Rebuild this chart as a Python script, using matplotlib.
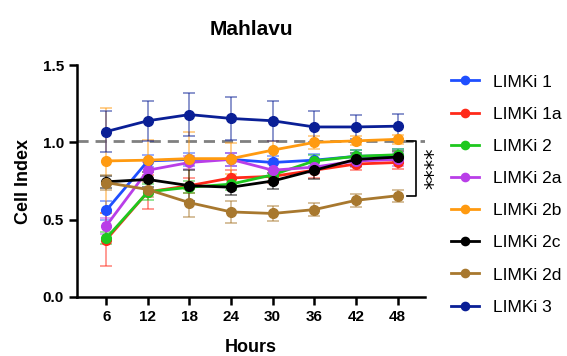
import numpy as np
import matplotlib
matplotlib.use('Agg')
import matplotlib.pyplot as plt

plt.rcParams['font.family'] = ['Liberation Sans', 'DejaVu Sans']

hours = [6, 12, 18, 24, 30, 36, 42, 48]
names = ["LIMKi 1", "LIMKi 1a", "LIMKi 2", "LIMKi 2a", "LIMKi 2b", "LIMKi 2c", "LIMKi 2d", "LIMKi 3"]
colors = ["#1f4fff", "#ff2a1a", "#1ec81e", "#b93ee8", "#ff9a10", "#000000", "#a8782e", "#0a1f96"]

means = [
    [0.56, 0.88, 0.89, 0.89, 0.87, 0.885, 0.91, 0.915],
    [0.37, 0.68, 0.72, 0.77, 0.78, 0.82, 0.86, 0.87],
    [0.38, 0.68, 0.71, 0.73, 0.79, 0.88, 0.91, 0.92],
    [0.46, 0.82, 0.87, 0.89, 0.82, 0.84, 0.88, 0.89],
    [0.88, 0.885, 0.895, 0.895, 0.95, 1.0, 1.01, 1.02],
    [0.745, 0.76, 0.72, 0.71, 0.75, 0.82, 0.89, 0.905],
    [0.74, 0.695, 0.61, 0.55, 0.54, 0.565, 0.625, 0.655],
    [1.07, 1.14, 1.18, 1.155, 1.14, 1.10, 1.10, 1.105],
]
errs = [
    [0.06, 0.04, 0.04, 0.04, 0.04, 0.04, 0.04, 0.04],
    [0.17, 0.11, 0.05, 0.05, 0.04, 0.05, 0.04, 0.04],
    [0.04, 0.05, 0.04, 0.04, 0.04, 0.04, 0.04, 0.04],
    [0.05, 0.05, 0.04, 0.04, 0.04, 0.04, 0.04, 0.04],
    [0.34, 0.13, 0.17, 0.10, 0.06, 0.04, 0.03, 0.03],
    [0.04, 0.05, 0.10, 0.05, 0.05, 0.06, 0.04, 0.04],
    [0.05, 0.05, 0.09, 0.07, 0.05, 0.04, 0.04, 0.04],
    [0.13, 0.13, 0.14, 0.14, 0.13, 0.10, 0.08, 0.08],
]
ref_line = 1.01
bracket = (0.655, 1.01)

fig = plt.figure(figsize=(5.67, 3.56), dpi=100)
ax = fig.add_axes([0.136, 0.166, 0.614, 0.651])

for name, c, m, e in zip(names, colors, means, errs):
    ax.errorbar(hours, m, yerr=e, fmt='none', ecolor=c, alpha=0.55,
                elinewidth=1.2, capsize=4, capthick=1.2, zorder=2)
    ax.plot(hours, m, '-o', color=c, lw=2, ms=7, label=name, zorder=3)

ax.axhline(ref_line, color='#808080', ls=(0, (4, 2.5)), lw=2, zorder=1)

ax.set_xlim(1.8, 52)
ax.set_ylim(0, 1.5)
ax.set_xticks(hours)
ax.set_yticks([0.0, 0.5, 1.0, 1.5])
ax.set_yticklabels(["0.0", "0.5", "1.0", "1.5"])
for s in ['top', 'right']:
    ax.spines[s].set_visible(False)
for s in ['left', 'bottom']:
    ax.spines[s].set_linewidth(1.8)
ax.tick_params(width=1.8, length=6, labelsize=11)
for lab in ax.get_xticklabels() + ax.get_yticklabels():
    lab.set_fontweight('bold')

ax.set_title("Mahlavu", fontsize=15, fontweight='bold', pad=22)
ax.set_xlabel("Hours", fontsize=13, fontweight='bold', labelpad=11)
ax.set_ylabel("Cell Index", fontsize=13, fontweight='bold', labelpad=8)

# significance bracket
bx = 50.7
ax.plot([bx - 1.3, bx, bx, bx - 1.3], [bracket[0], bracket[0], bracket[1], bracket[1]],
        color='black', lw=1.2, clip_on=False)
ax.text(bx + 1.2, sum(bracket) / 2, "****", rotation=90, ha='left', va='center',
        fontsize=15, family='DejaVu Sans', clip_on=False)

ax.legend(loc='upper left', bbox_to_anchor=(1.055, 0.99), frameon=False,
          fontsize=12.5, handlelength=1.6, handletextpad=0.8,
          labelspacing=0.98, markerscale=0.85, borderaxespad=0)

fig.savefig("out.png", dpi=100)
